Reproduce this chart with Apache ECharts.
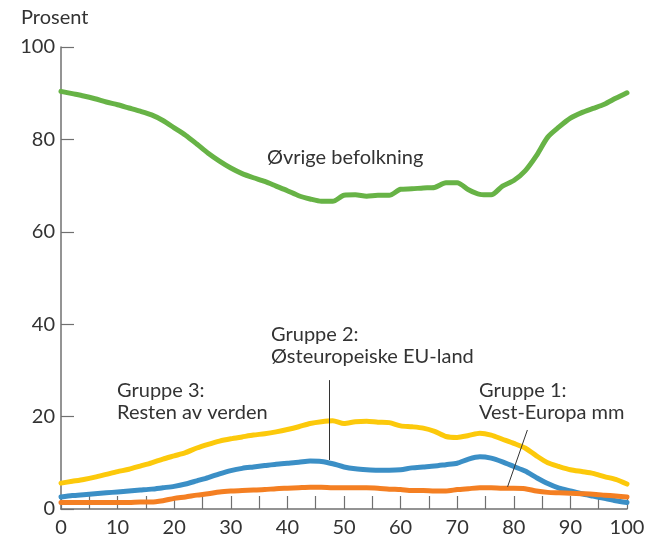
<!DOCTYPE html>
<html>
<head>
<meta charset="utf-8">
<script src="https://cdn.jsdelivr.net/npm/echarts@6/dist/echarts.min.js"></script>
<style>
html,body{margin:0;padding:0;background:#fff;}
#chart{width:654px;height:538px;}
</style>
</head>
<body>
<div id="chart"></div>
<script>
// x positions (0..100)
const xValues = [0,2,4,6,8,10,12,14,16,18,20,22,24,26,28,30,32,34,36,38,40,42,44,46,48,50,52,54,56,58,60,62,64,66,68,70,72,74,76,78,80,82,84,86,88,90,92,94,96,98,100];
const ovrige = [90.4,89.9,89.4,88.8,88.1,87.5,86.8,86.1,85.3,84.1,82.5,80.9,79.0,77.0,75.3,73.8,72.6,71.7,70.9,69.9,68.9,67.8,67.1,66.6,66.6,67.9,68.0,67.7,67.9,67.9,69.2,69.3,69.5,69.6,70.6,70.6,69.1,68.1,68.0,69.9,71.1,73.2,76.5,80.5,82.7,84.6,85.8,86.7,87.6,88.9,90.1];
const gruppe3 = [5.6,6.0,6.4,6.9,7.5,8.1,8.6,9.3,10.0,10.8,11.5,12.2,13.2,14.0,14.7,15.2,15.6,16.0,16.3,16.7,17.2,17.8,18.5,18.9,19.1,18.5,18.9,19.0,18.8,18.7,18.0,17.8,17.5,16.8,15.7,15.5,15.9,16.4,16.0,15.1,14.2,13.2,11.5,10.0,9.2,8.5,8.1,7.7,7.0,6.4,5.4];
const gruppe2 = [2.6,2.9,3.1,3.3,3.5,3.7,3.9,4.1,4.3,4.6,4.9,5.4,6.1,6.8,7.6,8.3,8.8,9.1,9.4,9.7,9.9,10.1,10.4,10.3,9.8,9.1,8.7,8.5,8.4,8.4,8.5,8.9,9.1,9.3,9.6,9.9,10.8,11.3,11.0,10.2,9.2,8.2,6.8,5.5,4.5,3.9,3.3,2.8,2.3,1.8,1.4];
const gruppe1 = [1.4,1.4,1.4,1.4,1.4,1.4,1.4,1.5,1.5,1.8,2.3,2.6,3.0,3.3,3.7,3.9,4.0,4.1,4.2,4.4,4.5,4.6,4.7,4.7,4.6,4.6,4.6,4.6,4.5,4.3,4.2,4.0,4.0,3.9,3.9,4.2,4.4,4.6,4.6,4.5,4.5,4.4,3.9,3.6,3.5,3.4,3.3,3.2,3.0,2.8,2.6];
const yTicks = [0,20,40,60,80,100];
const xTickLabels = [0,10,20,30,40,50,60,70,80,90,100];

const FONT = 'Lato';
const FS = 20;
const TXT = '#333333';
const AX = '#707070';

function pairs(ys){ return xValues.map((x,i)=>[x, ys[i]]); }

const chart = echarts.init(document.getElementById('chart'), null, {renderer:'canvas'});

function lineSeries(name, data, color, extra){
  return Object.assign({
    name, type:'line', data: pairs(data), showSymbol:false, symbol:'none',
    smooth:0.25,
    lineStyle:{color, width:5, cap:'round', join:'round'},
    z:3
  }, extra||{});
}

const leaderStyle = {color:'#333', width:1, type:'solid'};
const font = FS + 'px "' + FONT + '"';

chart.setOption({
  animation:false,
  backgroundColor:'#fff',
  textStyle:{fontFamily:FONT},
  grid:{left:61, right:27, top:47, bottom:29, containLabel:false},
  xAxis:{
    type:'value', min:0, max:100, interval:5,
    axisLine:{show:true, lineStyle:{color:AX, width:1.5}},
    axisTick:{show:true, inside:true, length:13, lineStyle:{color:AX, width:1.2}},
    axisLabel:{
      margin:9, color:TXT, fontFamily:FONT, fontSize:FS,
      formatter:v => xTickLabels.indexOf(v) >= 0 ? String(v) : ''
    },
    splitLine:{show:false}
  },
  yAxis:{
    type:'value', min:0, max:100, interval:20,
    axisLine:{show:true, lineStyle:{color:AX, width:1.5}},
    axisTick:{show:true, inside:true, length:13, lineStyle:{color:AX, width:1.2}},
    axisLabel:{margin:6, color:TXT, fontFamily:FONT, fontSize:FS,
      formatter:v => yTicks.indexOf(v) >= 0 ? String(v) : ''},
    splitLine:{show:false}
  },
  series:[
    lineSeries('Øvrige befolkning', ovrige, '#67b346'),
    lineSeries('Gruppe 3', gruppe3, '#fcc90b'),
    lineSeries('Gruppe 2', gruppe2, '#3b8fc6', {
      markLine:{silent:true, symbol:['none','none'], label:{show:false}, lineStyle:leaderStyle,
        data:[[{coord:[47.4, 27.9]},{coord:[47.4, 10.6]}]]}
    }),
    lineSeries('Gruppe 1', gruppe1, '#f47f22', {
      markLine:{silent:true, symbol:['none','none'], label:{show:false}, lineStyle:leaderStyle,
        data:[[{coord:[82.4, 17.1]},{coord:[78.9, 4.8]}]]}
    })
  ],
  graphic:[
    {type:'text', left:21, top:8, style:{text:'Prosent', fill:TXT, font:font}},
    {type:'text', left:267, top:148, style:{text:'Øvrige befolkning', fill:TXT, font:font}},
    {type:'text', left:271, top:324, style:{text:'Gruppe 2:\nØsteuropeiske EU-land', fill:TXT, font:font, lineHeight:22}},
    {type:'text', left:117, top:380, style:{text:'Gruppe 3:\nResten av verden', fill:TXT, font:font, lineHeight:22}},
    {type:'text', left:479, top:380, style:{text:'Gruppe 1:\nVest-Europa mm', fill:TXT, font:font, lineHeight:22}}
  ]
});
</script>
</body>
</html>
